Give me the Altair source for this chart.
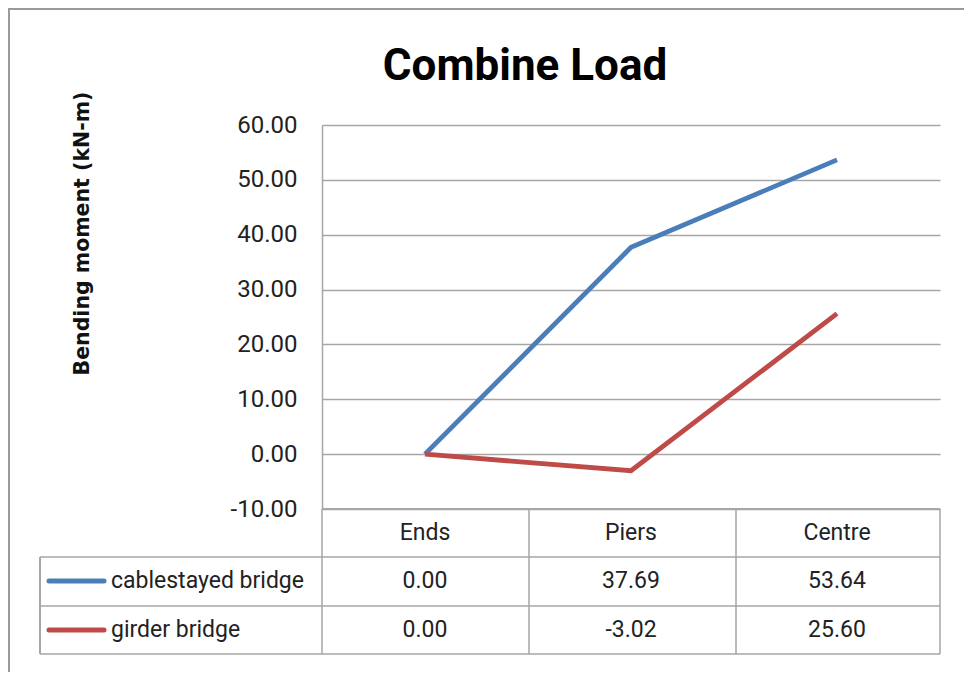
import altair as alt
import pandas as pd

categories = ["Ends", "Piers", "Centre"]
series_names = ["cablestayed bridge", "girder bridge"]
cablestayed = [0.00, 37.69, 53.64]
girder = [0.00, -3.02, 25.60]
colors = ["#4a7ebb", "#be4b48"]
y_ticks = [-10, 0, 10, 20, 30, 40, 50, 60]

rows = []
for s, vals in zip(series_names, [cablestayed, girder]):
    for c, v in zip(categories, vals):
        rows.append({"cat": c, "series": s, "value": v})
df = pd.DataFrame(rows)
cat_df = pd.DataFrame({"cat": categories})

W, H = 618, 384
FONT = "Roboto, sans-serif"
GRID = "#a6a6a6"
TXT = "#222222"

xs = alt.X("cat:N", scale=alt.Scale(type="point", domain=categories, padding=0.5), axis=None)
col = alt.Color("series:N", scale=alt.Scale(domain=series_names, range=colors), legend=None)

base = alt.Chart(df)

lines = base.mark_line(strokeWidth=4.8).encode(
    x=xs,
    y=alt.Y("value:Q",
            scale=alt.Scale(domain=[-10, 60], nice=False, zero=False),
            axis=alt.Axis(values=y_ticks, ticks=False, labelPadding=25,
                          labelExpr="replace(format(datum.value, '.2f'), '\u2212', '-')",
                          labelFont=FONT, labelFontSize=24, labelColor=TXT,
                          gridColor=GRID, gridWidth=1.5, domainColor=GRID, domainWidth=1.5,
                          title="Bending moment (kN-m)", titleFont="DejaVu Sans",
                          titleFontSize=20.5, titleFontWeight="bold", titleColor="#111111",
                          titleAngle=270, titleX=-240, titleY=108,
                          titleAlign="center", titleBaseline="middle")),
    color=col,
)

# Table structure
hlines = pd.DataFrame({"y": [H + 48, H + 97, H + 145]})
hl = alt.Chart(hlines).mark_rule(color=GRID, strokeWidth=1.5).encode(
    x=alt.value(-282), x2=alt.value(W), y=alt.Y("y:Q", scale=None))
top_rule = alt.Chart(cat_df).mark_rule(color=GRID, strokeWidth=1.5).encode(
    x=alt.value(0), x2=alt.value(W), y=alt.value(H))
vlines = pd.DataFrame({"x": [0, 207, 414, W]})
vl = alt.Chart(vlines).mark_rule(color=GRID, strokeWidth=1.5).encode(
    x=alt.X("x:Q", scale=None), y=alt.value(H), y2=alt.value(H + 145))
left_v = alt.Chart(cat_df).mark_rule(color=GRID, strokeWidth=1.5).encode(
    x=alt.value(-282), y=alt.value(H + 48), y2=alt.value(H + 145))

header = alt.Chart(cat_df).mark_text(font=FONT, fontSize=23, color=TXT, baseline="middle").encode(
    x=xs, y=alt.value(H + 24), text="cat:N")

row_y = {series_names[0]: H + 72, series_names[1]: H + 121}
layers = [hl, top_rule, vl, left_v, lines, header]
for s in series_names:
    sub = base.transform_filter(alt.datum.series == s).transform_calculate(
        label="replace(format(datum.value, '.2f'), '\u2212', '-')")
    layers.append(sub.mark_text(font=FONT, fontSize=23, color=TXT, baseline="middle").encode(
        x=xs, y=alt.value(row_y[s]), text="label:N"))
    lab = alt.Chart(pd.DataFrame({"series": [s]}))
    layers.append(lab.mark_rule(strokeWidth=5, strokeCap="round").encode(
        x=alt.value(-273), x2=alt.value(-218), y=alt.value(row_y[s]), color=col))
    layers.append(lab.mark_text(font=FONT, fontSize=23, color=TXT, align="left", baseline="middle").encode(
        x=alt.value(-211), y=alt.value(row_y[s]), text="series:N"))

title = alt.Chart(pd.DataFrame({"t": ["Combine Load"]})).mark_text(
    font=FONT, fontSize=44, fontWeight="bold", color="#000000", align="center", baseline="alphabetic"
).encode(x=alt.value(203), y=alt.value(-45), text="t:N")

border = alt.Chart(pd.DataFrame({"a": [1]})).mark_rect(
    fill=None, stroke="#9a9a9a", strokeWidth=2).encode(
    x=alt.value(-313), x2=alt.value(W + 60), y=alt.value(-116), y2=alt.value(H + 300))

layers.append(title)
layers.insert(0, border)

chart = alt.layer(*layers).properties(
    width=W, height=H,
    autosize=alt.AutoSizeParams(type="none"),
    padding={"left": 314, "top": 117, "right": 24, "bottom": 163},
    background="white",
).configure_view(strokeWidth=0)

chart.save("out.html", embed_options={"renderer": "svg", "actions": False})
